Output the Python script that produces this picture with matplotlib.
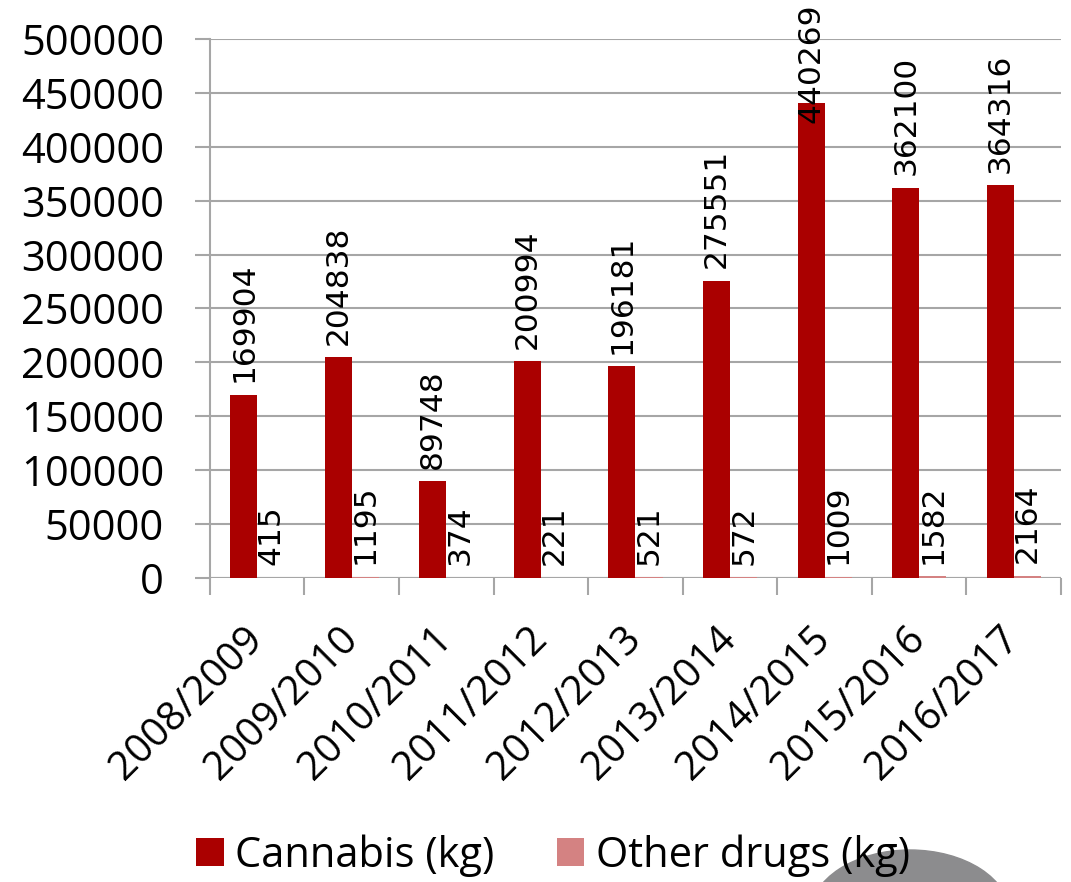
import matplotlib.pyplot as plt
from matplotlib.patches import Ellipse
import numpy as np

# Seizure data per financial year
years = ['2008/2009', '2009/2010', '2010/2011', '2011/2012', '2012/2013',
         '2013/2014', '2014/2015', '2015/2016', '2016/2017']
cannabis = [169904, 204838, 89748, 200994, 196181, 275551, 440269, 362100, 364316]
other = [415, 1195, 374, 221, 521, 572, 1009, 1582, 2164]

red = '#aa0000'
pink = '#d48282'
grey = '#a6a6a6'

fig = plt.figure(figsize=(10.71, 8.82), dpi=100)
ax = fig.add_axes([0.196, 0.3447, 0.7947, 0.6111])

x = np.arange(len(years))
w = 0.286
b1 = ax.bar(x - w / 2, cannabis, w, color=red, label='Cannabis (kg)', zorder=3)
b2 = ax.bar(x + w / 2, other, w, color=pink, label='Other drugs (kg)', zorder=3)

ax.set_ylim(0, 500000)
ax.set_xlim(-0.5, len(years) - 0.5)
ax.set_yticks(np.arange(0, 500001, 50000))
ax.yaxis.grid(True, color=grey, linewidth=1.5, zorder=0)

for s in ['top', 'right', 'bottom']:
    ax.spines[s].set_visible(False)
ax.spines['left'].set_color(grey)
ax.spines['left'].set_linewidth(1.5)
ax.axhline(0, color=grey, linewidth=1.5, zorder=2)

ax.tick_params(axis='y', length=11, width=1.5, color=grey, pad=22,
               labelsize=30)
for t in ax.get_yticklabels():
    t.set_fontfamily(['Open Sans', 'DejaVu Sans'])

# category labels at centres, ticks at boundaries
ax.set_xticks(x)
ax.set_xticklabels(years, rotation=45, ha='right', va='center',
                   rotation_mode='anchor', fontsize=29,
                   family=['Open Sans', 'DejaVu Sans'])
ax.tick_params(axis='x', length=0, pad=40)
ax.set_xticks(np.arange(-0.5, len(years)), minor=True)
ax.tick_params(axis='x', which='minor', length=12, width=1.5, color=grey)

# value labels
labels = []
for bars in (b1, b2):
    for r in bars:
        t = ax.annotate(str(int(r.get_height())),
                        (r.get_x() + r.get_width() / 2, r.get_height()),
                        xytext=(0, 9), textcoords='offset points',
                        rotation=90, ha='center', va='bottom',
                        fontsize=22.5, family='DejaVu Sans', zorder=4)
        labels.append(t)

# keep labels inside the picture (Excel pushes them down)
fig.canvas.draw()
rend = fig.canvas.get_renderer()
H = fig.bbox.height
for t in labels:
    bb = t.get_window_extent(rend)
    if bb.y1 > H - 3:
        dy = (bb.y1 - (H - 3)) * 72 / fig.dpi
        ox, oy = t.xyann
        t.xyann = (ox, oy - dy)

fig.legend(handles=[b1, b2], loc='center', bbox_to_anchor=(0.516, 0.03),
           ncol=2, frameon=False, handlelength=0.67, handleheight=0.67,
           handletextpad=0.27, columnspacing=1.5,
           prop={'family': ['Open Sans', 'DejaVu Sans'], 'size': 30})

fig.patches.append(Ellipse((910 / 1071, 1 - 915 / 882), 200 / 1071, 130 / 882,
                           transform=fig.transFigure, color='#8c8c8e',
                           zorder=1))

plt.savefig('out.png', dpi=100)
